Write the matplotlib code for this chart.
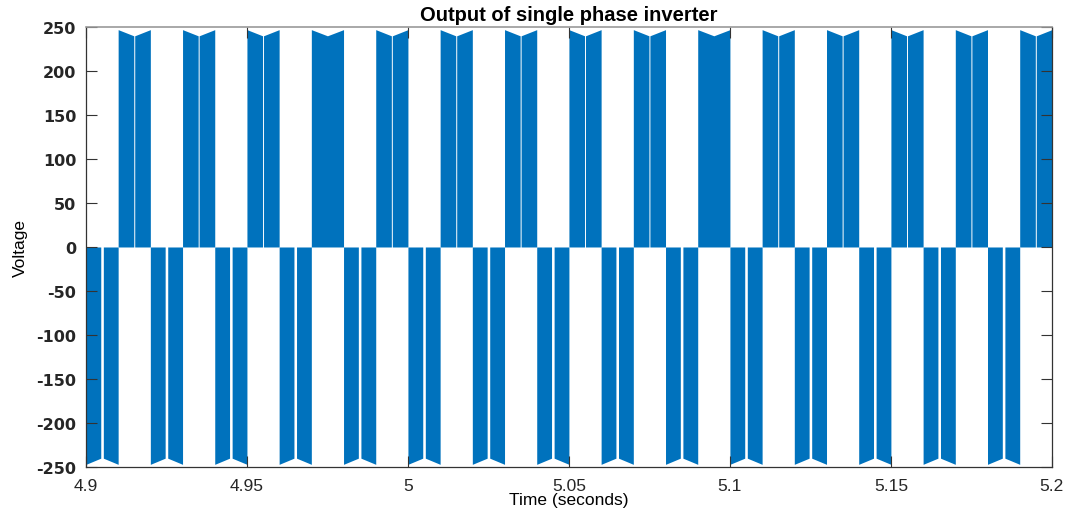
import numpy as np
import matplotlib
matplotlib.use('Agg')
import matplotlib.pyplot as plt

plt.rcParams['axes.unicode_minus'] = False

# one inverter cycle = negative half then positive half (50 Hz, 0.02 s)
cycle_start = [4.90, 4.92, 4.94, 4.96, 4.98, 5.00, 5.02, 5.04,
               5.06, 5.08, 5.10, 5.12, 5.14, 5.16, 5.18]
half_len = 0.01
peak_v = 247      # level at the edges of each block
notch_v = 240     # level at the middle of each block (dip)
# positive blocks with the thin split line in the middle (False = solid block)
pos_split = [True, True, True, False, True, True, True, True,
             True, False, True, True, True, True, True]
neg_gap = 0.0008
pos_gap = 0.0003

blue = '#0072BD'

fig = plt.figure(figsize=(10.69, 5.10), dpi=100)
ax = fig.add_axes([0.0804, 0.0824, 0.9036, 0.8627])


def draw_block(t0, sign, gap):
	t1 = t0 + half_len
	tc = t0 + half_len / 2
	if gap > 0:
		ax.fill_between([t0, tc - gap / 2], 0, [sign * peak_v, sign * notch_v],
		                color=blue, lw=0)
		ax.fill_between([tc + gap / 2, t1], 0, [sign * notch_v, sign * peak_v],
		                color=blue, lw=0)
	else:
		ax.fill_between([t0, tc, t1], 0, [sign * peak_v, sign * notch_v, sign * peak_v],
		                color=blue, lw=0)


for i in range(len(cycle_start)):
	draw_block(cycle_start[i], -1, neg_gap)
	draw_block(cycle_start[i] + half_len, 1, pos_gap if pos_split[i] else 0)

ax.set_xlim(4.9, 5.2)
ax.set_ylim(-250, 250)
ax.set_xticks([4.9, 4.95, 5.0, 5.05, 5.1, 5.15, 5.2])
ax.set_xticklabels(['4.9', '4.95', '5', '5.05', '5.1', '5.15', '5.2'],
                   fontsize=12.5, family='Liberation Sans')
ax.set_yticks(np.arange(-250, 251, 50))
ax.set_yticklabels([str(v) for v in range(-250, 251, 50)],
                   fontsize=11.5, fontweight='bold')

ax.tick_params(direction='in', length=8, width=0.8, colors='#333333',
               top=True, right=True, pad=7)
ax.tick_params(axis='y', labelcolor='#262626')
ax.tick_params(axis='x', pad=8, labelcolor='#262626')
for s in ['left', 'bottom', 'right']:
	ax.spines[s].set_color('#333333')
	ax.spines[s].set_linewidth(0.9)
ax.spines['top'].set_color('#9a9a9a')
ax.spines['top'].set_linewidth(1.2)

ax.set_xlabel('Time (seconds)', fontsize=12.5, family='Liberation Sans', labelpad=-1)
ax.set_ylabel('Voltage', fontsize=12.5, family='Liberation Sans', labelpad=6)
ax.set_title('Output of single phase inverter', fontsize=14.5, fontweight='bold',
             family='Liberation Sans', pad=5)

plt.savefig('out.png', dpi=100)
